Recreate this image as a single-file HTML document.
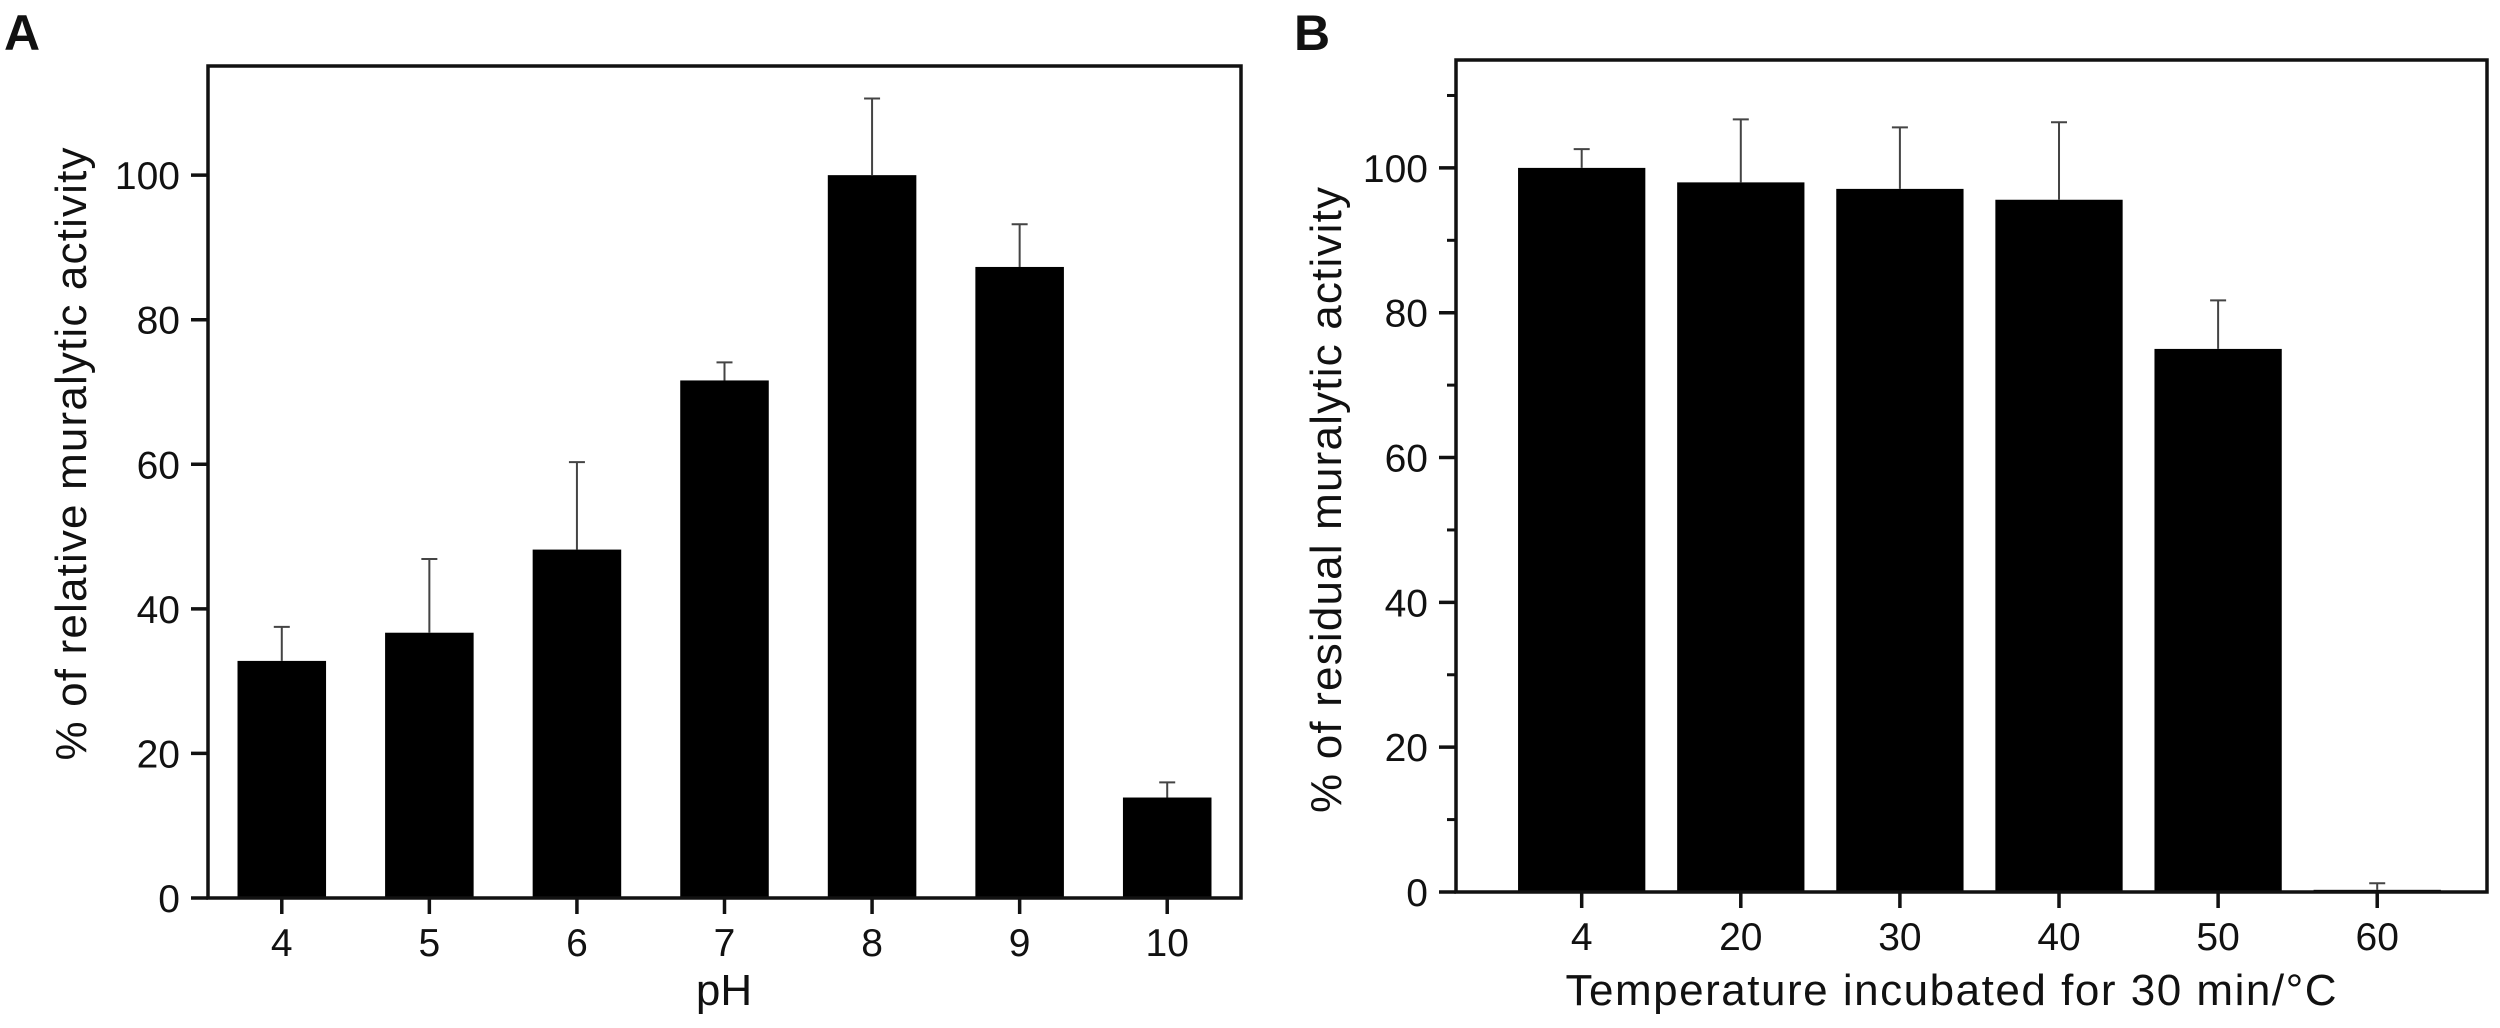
<!DOCTYPE html>
<html><head><meta charset="utf-8"><style>html,body{margin:0;padding:0;background:#fff}svg{display:block}text{font-family:"Liberation Sans",Arial,sans-serif;fill:#111}</style></head>
<body>
<svg id="fig" width="2500" height="1028" viewBox="0 0 2500 1028" xmlns="http://www.w3.org/2000/svg">
<text x="4" y="50" font-size="50" font-weight="bold">A</text>
<text x="1294" y="50" font-size="50" font-weight="bold">B</text>
<g id="pa"></g>
<g id="pb"></g>
</svg>
<script>
const catsA = ["4","5","6","7","8","9","10"];
const valsA = [32.8, 36.7, 48.2, 71.6, 100, 87.3, 13.9];
const errA = [37.5, 46.9, 60.3, 74.1, 110.6, 93.2, 16.0];
const catsB = ["4","20","30","40","50","60"];
const valsB = [100, 98.0, 97.1, 95.6, 75.0, 0.3];
const errB = [102.6, 106.7, 105.6, 106.3, 81.7, 1.2];
const yTicks = [0, 20, 40, 60, 80, 100];
const yMinor = [10, 30, 50, 70, 90, 110];

const NS = "http://www.w3.org/2000/svg";
function mk(parent, tag, attrs, txt) {
  const e = document.createElementNS(NS, tag);
  for (const k in attrs) e.setAttribute(k, attrs[k]);
  if (txt !== undefined) e.textContent = txt;
  parent.appendChild(e);
  return e;
}
function panel(g, cfg, cats, vals, errs) {
  const L = cfg.L, R = cfg.R, T = cfg.T, B = cfg.B;
  const xs = i => L + (i - cfg.xmin) / (cfg.xmax - cfg.xmin) * (R - L);
  const ys = v => B - v / cfg.ymax * (B - T);
  const bw = cfg.bw * (xs(1) - xs(0));
  cats.forEach((c, i) => {
    const cx = xs(i);
    const bar = mk(g, "rect", {x: cx - bw / 2, y: ys(vals[i]), width: bw, height: B - ys(vals[i]), fill: "#000"});
    
    
    const eb = mk(g, "path", {d: `M${cx},${ys(vals[i])}V${ys(errs[i])}M${cx-8},${ys(errs[i])}H${cx+8}`, stroke: "#444", "stroke-width": 2, fill: "none"});
    
    
    const tk = mk(g, "line", {x1: cx, x2: cx, y1: B, y2: B + 16, stroke: "#111", "stroke-width": 3.5});
    
    
    const tl = mk(g, "text", {x: cx, y: B + 58, "font-size": 39, "text-anchor": "middle"}, c);
    
    
  });
  yTicks.forEach(v => {
    const t = mk(g, "line", {x1: L - 17, x2: L, y1: ys(v), y2: ys(v), stroke: "#111", "stroke-width": 3.5});
    
    
    const tl = mk(g, "text", {x: L - 28, y: ys(v) + 14, "font-size": 39, "text-anchor": "end"}, String(v));
    
    
  });
  if (cfg.minor) yMinor.forEach(v => {
    const t = mk(g, "line", {x1: L - 9, x2: L, y1: ys(v), y2: ys(v), stroke: "#111", "stroke-width": 3});
    
    
  });
  const fr = mk(g, "rect", {x: L, y: T, width: R - L, height: B - T, fill: "none", stroke: "#111", "stroke-width": 3.5});
  
  
  const xt = mk(g, "text", {x: cfg.xtX, y: 1005, "font-size": 44, "text-anchor": "middle"}, cfg.xt);
  
  
  if (cfg.xtLen) xt.setAttribute("textLength", cfg.xtLen);
  const yt = mk(g, "text", {x: 0, y: 0, "font-size": 44, "text-anchor": "middle", textLength: cfg.ytLen, transform: `translate(${cfg.ytX},${cfg.ytY}) rotate(-90)`}, cfg.yt);
  
  
}
panel(document.getElementById("pa"), {L: 208, R: 1241, T: 66, B: 898, xmin: -0.5, xmax: 6.5, ymax: 115.1, bw: 0.6, minor: false,
  xt: "pH", xtX: 724, yt: "% of relative muralytic activity", ytX: 86, ytY: 454, ytLen: 613}, catsA, valsA, errA);
panel(document.getElementById("pb"), {L: 1456, R: 2487, T: 60, B: 892, xmin: -0.79, xmax: 5.69, ymax: 114.9, bw: 0.8, minor: true,
  xt: "Temperature incubated for 30 min/°C", xtX: 1951, xtLen: 771, yt: "% of residual muralytic activity", ytX: 1341, ytY: 500, ytLen: 626}, catsB, valsB, errB);
</script>
</body></html>
